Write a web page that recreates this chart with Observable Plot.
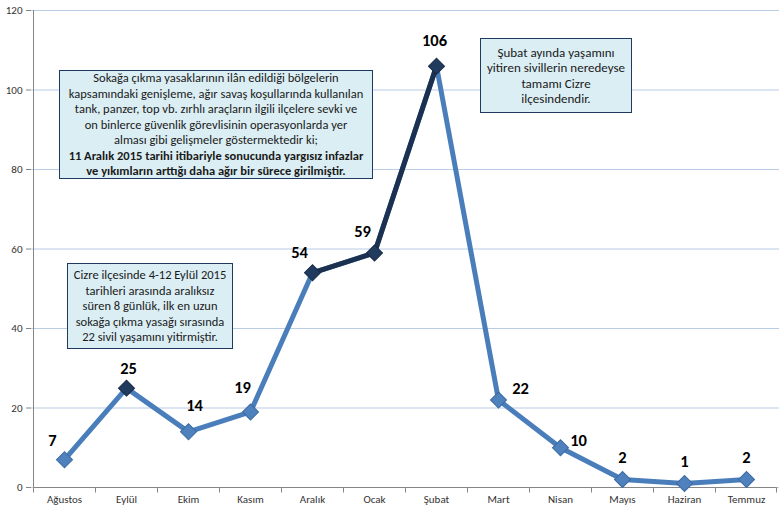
<!DOCTYPE html>
<html><head><meta charset="utf-8">
<script src="https://cdn.jsdelivr.net/npm/d3@7"></script>
<script src="https://cdn.jsdelivr.net/npm/@observablehq/plot@0.6"></script>
<style>
html,body{margin:0;padding:0;background:#fff;}
#wrap{position:relative;width:784px;height:514px;font-family:Carlito,Lato,"Open Sans",sans-serif;}
.note{position:absolute;box-sizing:border-box;background:#DBEEF4;border:1.5px solid #1F3A5F;color:#1a1a1a;text-align:center;font-size:12.5px;line-height:15.5px;display:flex;flex-direction:column;justify-content:center;white-space:nowrap;}
</style>
</head><body>
<div id="wrap"></div>
<script>
const months = ["Ağustos","Eylül","Ekim","Kasım","Aralık","Ocak","Şubat","Mart","Nisan","Mayıs","Haziran","Temmuz"];
const deaths = [7,25,14,19,54,59,106,22,10,2,1,2];
const darkLineMonths = ["Aralık","Ocak","Şubat"];
const darkMarkerMonths = ["Eylül","Aralık","Ocak","Şubat"];
const yTicks = [0,20,40,60,80,100,120];
const note1 = ["Sokağa çıkma yasaklarının ilân edildiği bölgelerin","kapsamındaki genişleme, ağır savaş koşullarında kullanılan","tank, panzer, top vb. zırhlı araçların ilgili ilçelere sevki ve","on binlerce güvenlik görevlisinin operasyonlarda yer","alması gibi gelişmeler göstermektedir ki;"];
const note1Bold = ["11 Aralık 2015 tarihi itibariyle sonucunda  yargısız infazlar","ve yıkımların arttığı daha ağır bir sürece girilmiştir."];
const note2 = ["Cizre ilçesinde 4-12 Eylül 2015","tarihleri arasında  aralıksız","süren 8 günlük, ilk en uzun","sokağa çıkma yasağı sırasında","22 sivil yaşamını yitirmiştir."];
const note3 = ["Şubat ayında yaşamını","yitiren sivillerin neredeyse","tamamı Cizre","ilçesindendir."];

const data = months.map((m,i)=>({month:m, value:deaths[i]}));
const darkLine = data.filter(d=>darkLineMonths.includes(d.month));
const darkDots = data.filter(d=>darkMarkerMonths.includes(d.month));
const lightDots = data.filter(d=>!darkMarkerMonths.includes(d.month));
// label offsets (pixels) relative to the point
const off = {"Ağustos":[-12,-19],"Eylül":[2,-19],"Ekim":[6,-26],"Kasım":[-8,-24],"Aralık":[-13,-20],"Ocak":[-12,-21],"Şubat":[-2,-25],"Mart":[22,-11],"Nisan":[18,-7],"Mayıs":[0,-22],"Haziran":[0,-22],"Temmuz":[0,-22]};

// axis lines + category boundary ticks drawn from the scales
function axisFrame(index, scales, values, dims){
  const g = d3.create("svg:g").attr("stroke","#868686").attr("stroke-width",1).attr("fill","none");
  const x = scales.x, y = scales.y;
  const bw = x.bandwidth();
  const y0 = Math.round(y(0))+0.5;
  const xl = Math.round(x(months[0]))+0.5;
  const xr = x(months[months.length-1]) + bw;
  g.append("line").attr("x1",xl).attr("x2",xl).attr("y1",y(120)).attr("y2",y0);
  g.append("line").attr("x1",xl).attr("x2",xr).attr("y1",y0).attr("y2",y0);
  months.forEach(m=>{const xx=Math.round(x(m))+0.5; g.append("line").attr("x1",xx).attr("x2",xx).attr("y1",y0).attr("y2",y0+5);});
  g.append("line").attr("x1",Math.round(xr)-0.5).attr("x2",Math.round(xr)-0.5).attr("y1",y0).attr("y2",y0+5);
  return g.node();
}

const font = "Carlito,Lato,'Open Sans',sans-serif";
const chart = Plot.plot({
  width:784, height:514,
  marginLeft:31, marginRight:5, marginTop:10, marginBottom:27,
  style:{fontFamily:font, fontSize:"11px", color:"#333", background:"#fff"},
  x:{type:"band", domain:months, padding:0, label:null},
  y:{domain:[0,120], label:null},
  marks:[
    Plot.gridY(yTicks,{stroke:"#B9CDE5", strokeOpacity:1, strokeWidth:1}),
    Plot.axisY(yTicks,{tickSize:5, tickPadding:4, stroke:"#868686", fill:"#333", fontSize:11}),
    Plot.axisX({tickSize:0, tickPadding:8, fill:"#333", fontSize:11}),
    axisFrame,
    Plot.line(data,{x:"month", y:"value", stroke:"#4A7EBB", strokeWidth:5, strokeLinejoin:"round"}),
    Plot.line(darkLine,{x:"month", y:"value", stroke:"#1C3150", strokeWidth:5, strokeLinejoin:"round"}),
    Plot.dot(lightDots,{x:"month", y:"value", symbol:"square", rotate:45, r:6.4, fill:"#4F81BD", stroke:"#3C6AA3", strokeWidth:1}),
    Plot.dot(darkDots,{x:"month", y:"value", symbol:"square", rotate:45, r:6.4, fill:"#213B5E", stroke:"#172A45", strokeWidth:1}),
    ...data.map(d=>Plot.text([d],{x:"month", y:"value", text:d=>String(d.value), dx:off[d.month][0], dy:off[d.month][1], fontSize:16.5, fontWeight:"bold", fill:"#000", textAnchor:"middle"}))
  ]
});
const wrap = document.getElementById("wrap");
wrap.appendChild(chart);
function addNote(lines, boldLines, left, top, w, h, fs){
  const div = document.createElement("div");
  div.className="note";
  div.style.left=left+"px"; div.style.top=top+"px"; div.style.width=w+"px"; div.style.height=h+"px";
  if (fs) div.style.fontSize = fs+"px";
  lines.forEach(t=>{const s=document.createElement("div"); s.textContent=t; div.appendChild(s);});
  (boldLines||[]).forEach(t=>{const s=document.createElement("div"); s.textContent=t; s.style.fontWeight="bold"; div.appendChild(s);});
  wrap.appendChild(div);
}
addNote(note1, note1Bold, 59, 70, 314, 109);
addNote(note2, null, 67, 263, 166, 86);
addNote(note3, null, 480, 38, 152, 75, 13);
</script>
</body></html>
